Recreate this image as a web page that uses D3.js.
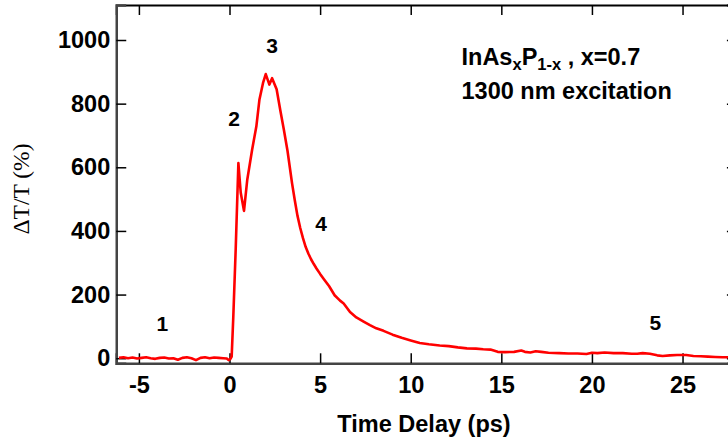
<!DOCTYPE html>
<html>
<head>
<meta charset="utf-8">
<script src="https://cdn.jsdelivr.net/npm/d3@7"></script>
<style>
  html, body { margin: 0; padding: 0; background: #fff; overflow: hidden; }
  svg { display: block; }
  .tick-label { font-family: "Liberation Sans", Arial, sans-serif; font-weight: bold; font-size: 23.5px; fill: #000; }
  .note { font-family: "Liberation Sans", Arial, sans-serif; font-weight: bold; font-size: 21px; fill: #000; }
</style>
</head>
<body>
<svg id="chart" width="728" height="443"></svg>
<script>
// Pump-probe transient: time delay (ps) and differential transmission (%)
const delays = [
  -6.1, -5.85, -5.6, -5.35, -5.1, -4.85, -4.6, -4.35, -4.1, -3.85, -3.6, -3.35, -3.1,
  -2.85, -2.6, -2.35, -2.1, -1.85, -1.6, -1.35, -1.1, -0.85, -0.6, -0.35, -0.15, -0.05,
  0.05, 0.12, 0.21, 0.34, 0.49, 0.62, 0.8, 0.98, 1.25, 1.48, 1.65, 1.85, 2.0, 2.2, 2.35,
  2.6, 2.8, 3.0, 3.2, 3.45, 3.6, 3.75, 3.9, 4.05, 4.2, 4.35, 4.5, 4.65, 4.8, 5.0, 5.2,
  5.5, 5.8, 6.1, 6.3, 6.65, 7.0, 7.4, 7.75, 8.1, 8.5, 9.0, 9.5, 10.0, 10.5, 11.0, 11.6,
  12.1, 12.6, 13.1, 13.6, 14.0, 14.4, 14.8, 15.2, 15.7, 16.1, 16.3, 16.6, 16.9, 17.2,
  17.6, 18.2, 18.7, 19.2, 19.7, 20.0, 20.3, 20.7, 21.2, 21.7, 22.2, 22.5, 22.8, 23.2,
  23.6, 23.9, 24.3, 24.7, 25.2, 25.6, 26.0, 26.4, 26.8, 27.2, 27.6, 28.0
];
const signal = [
  1, 3, 0, 2, -1, 1, 3, 0, -2, 1, 2, -1, 0,
  -5, 1, 3, 0, -6, 1, 3, 0, 2, 1, 0, -1, -6,
  -2, 5, 131, 340, 613, 520, 463, 561, 656, 728, 812, 865, 893, 860, 880,
  845, 780, 718, 652, 550, 497, 448, 410, 378, 350, 329, 311, 296, 282, 265, 249,
  226, 198, 181, 172, 145, 128, 115, 104, 94, 86, 74, 64, 56, 48, 44, 40,
  38, 34, 31, 30, 28, 27, 20, 19, 20, 24, 20, 18, 22, 20,
  17, 16, 15, 15, 13, 17, 16, 18, 16, 16, 14, 14, 16, 14,
  9, 7, 9, 10, 10, 7, 6, 5, 4, 3, 3, 2
];

const xTicks = [-5, 0, 5, 10, 15, 20, 25];
const yTicks = [0, 200, 400, 600, 800, 1000];

// Labels marking the stages of the transient
const noteText = ["1", "2", "3", "4", "5"];
const noteDelay = [-3.7, 0.25, 2.35, 5.05, 23.5];
const noteLevel = [85, 730, 960, 400, 90];

const svg = d3.select("#chart");
const plotLeft = 116.25, plotRight = 736.9, plotTop = 5, plotBottom = 363.3;

const x = d3.scaleLinear().domain([-6.25, 28]).range([plotLeft, plotRight]);
const y = d3.scaleLinear().domain([-16, 1110]).range([plotBottom, plotTop]);

const plain = d => String(d);

// Axes with inward ticks
const axisBottom = d3.axisBottom(x).tickValues(xTicks).tickSize(-10).tickPadding(13.5).tickFormat(plain);
const axisTop = d3.axisTop(x).tickValues(xTicks).tickSize(-10).tickFormat("");
const axisLeft = d3.axisLeft(y).tickValues(yTicks).tickSize(-10).tickPadding(6).tickFormat(plain);
const axisRight = d3.axisRight(y).tickValues(yTicks).tickSize(-10).tickFormat("");

function style(g, lineColor, width) {
  g.attr("font-family", null).attr("font-size", null);
  g.select(".domain").attr("stroke", lineColor).attr("stroke-width", width);
  g.selectAll(".tick line").attr("stroke", "#000").attr("stroke-width", 1.5);
  g.selectAll(".tick text").attr("class", "tick-label").attr("fill", "#000");
}

svg.append("g").attr("transform", `translate(0,${plotTop})`).call(axisTop).call(g => style(g, "#000", 2));
svg.append("g").attr("transform", `translate(${plotRight},0)`).call(axisRight).call(g => style(g, "#000", 2));
svg.append("g").attr("transform", `translate(0,${plotBottom})`).call(axisBottom).call(g => style(g, "#444", 2.5));
svg.append("g").attr("transform", `translate(${plotLeft},0)`).call(axisLeft).call(g => style(g, "#444", 2.5));

// Trace
const pts = delays.map((t, i) => [t, signal[i]]);
svg.append("path")
  .datum(pts)
  .attr("fill", "none")
  .attr("stroke", "#ff0000")
  .attr("stroke-width", 2.6)
  .attr("stroke-linejoin", "round")
  .attr("d", d3.line().x(d => x(d[0])).y(d => y(d[1])));

// Stage labels
svg.selectAll("text.note")
  .data(noteText)
  .join("text")
  .attr("class", "note")
  .attr("text-anchor", "middle")
  .attr("x", (d, i) => x(noteDelay[i]))
  .attr("y", (d, i) => y(noteLevel[i]))
  .text(d => d);

// Sample description
const desc = svg.append("text")
  .attr("x", 461.5).attr("y", 65)
  .attr("font-family", "'Liberation Sans', Arial, sans-serif")
  .attr("font-weight", "bold").attr("font-size", 23.5);
desc.append("tspan").text("InAs");
desc.append("tspan").attr("font-size", 16.5).attr("dy", 5).text("x");
desc.append("tspan").attr("dy", -5).text("P");
desc.append("tspan").attr("font-size", 16.5).attr("dy", 5).text("1-x");
desc.append("tspan").attr("dy", -5).text(" , x=0.7");

svg.append("text")
  .attr("x", 461.5).attr("y", 98.5)
  .attr("font-family", "'Liberation Sans', Arial, sans-serif")
  .attr("font-weight", "bold").attr("font-size", 23.5)
  .text("1300 nm excitation");

// Axis titles
svg.append("text")
  .attr("x", 424).attr("y", 432)
  .attr("text-anchor", "middle")
  .attr("font-family", "'Liberation Sans', Arial, sans-serif")
  .attr("font-weight", "bold").attr("font-size", 23.5)
  .text("Time Delay (ps)");

svg.append("text")
  .attr("transform", "translate(28.5,189) rotate(-90)")
  .attr("text-anchor", "middle")
  .attr("font-family", "'Liberation Serif', 'Times New Roman', serif")
  .attr("font-size", 23.5)
  .text("ΔT/T (%)");
</script>
</body>
</html>
